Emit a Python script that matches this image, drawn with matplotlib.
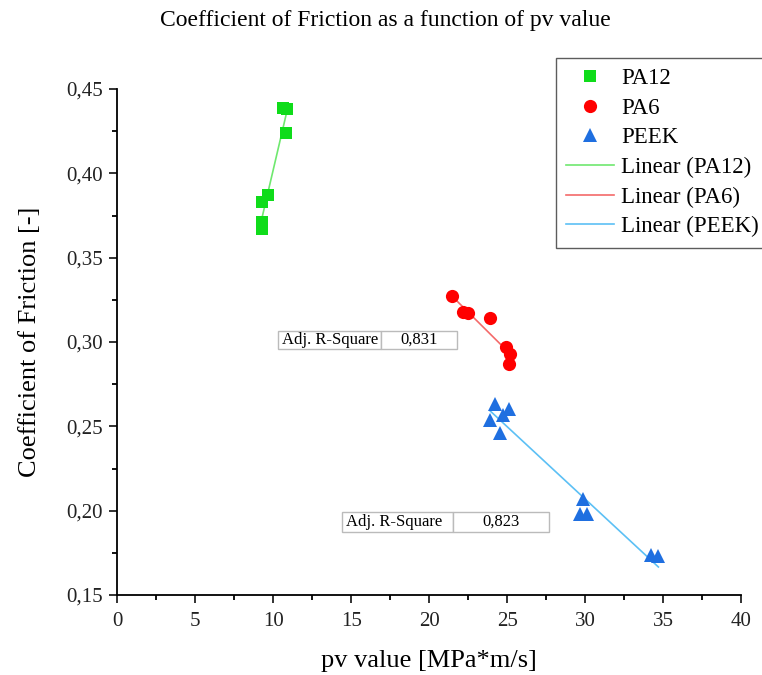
import numpy as np
import matplotlib
matplotlib.use("Agg")
import matplotlib.pyplot as plt
from matplotlib.patches import Rectangle
from matplotlib.ticker import MultipleLocator, FuncFormatter

# -------------------------------------------------------
# Data
# -------------------------------------------------------
pa12_pv  = [10.64, 10.90, 10.83, 9.68, 9.29, 9.29, 9.29]
pa12_cof = [0.439, 0.438, 0.424, 0.387, 0.383, 0.371, 0.367]

pa6_pv   = [21.45, 22.15, 22.51, 23.91, 24.94, 25.15, 25.09]
pa6_cof  = [0.327, 0.318, 0.317, 0.314, 0.297, 0.293, 0.287]

peek_pv  = [24.23, 25.13, 24.74, 23.91, 24.55, 29.87, 29.68, 30.13, 34.23, 34.68]
peek_cof = [0.263, 0.260, 0.257, 0.254, 0.246, 0.207, 0.198, 0.198, 0.174, 0.173]

adj_r2_pa6  = "0,831"
adj_r2_peek = "0,823"

# -------------------------------------------------------
# Style
# -------------------------------------------------------
plt.rcParams["font.family"] = ["Liberation Serif", "DejaVu Serif"]

series = [
    ("PA12", pa12_pv, pa12_cof, "s", "#0fdc1a", "#6fe86f", 8.5),
    ("PA6",  pa6_pv,  pa6_cof,  "o", "#ff0000", "#f46a6a", 9.5),
    ("PEEK", peek_pv, peek_cof, "^", "#1f6fe0", "#5cc0f5", 10),
]

fig = plt.figure(figsize=(7.62, 6.75), dpi=100)
ax = fig.add_axes([0.1535, 0.1185, 0.8195, 0.7496])

marker_handles = []
line_handles = []
for name, xs, ys, mk, mc, lc, ms in series:
    h, = ax.plot(xs, ys, linestyle="none", marker=mk, color=mc,
                 markersize=ms, markeredgewidth=0, label=name, zorder=3)
    marker_handles.append(h)
    # linear fit over the data range
    k, b = np.polyfit(xs, ys, 1)
    xf = np.array([min(xs), max(xs)])
    l, = ax.plot(xf, k * xf + b, color=lc, linewidth=1.2,
                 label=f"Linear ({name})", zorder=2)
    line_handles.append(l)

ax.set_xlim(0, 40)
ax.set_ylim(0.15, 0.45)
ax.xaxis.set_major_locator(MultipleLocator(5))
ax.xaxis.set_minor_locator(MultipleLocator(2.5))
ax.yaxis.set_major_locator(MultipleLocator(0.05))
ax.yaxis.set_minor_locator(MultipleLocator(0.025))
ax.yaxis.set_major_formatter(FuncFormatter(lambda v, p: f"{v:.2f}".replace(".", ",")))

for side in ("top", "right"):
    ax.spines[side].set_visible(False)
for side in ("left", "bottom"):
    ax.spines[side].set_linewidth(1.3)
ax.tick_params(which="major", direction="out", length=6, width=1.3,
               labelsize=15, colors="#222222")
ax.tick_params(axis="x", which="major", pad=6)
ax.tick_params(axis="y", which="major", pad=4)
ax.tick_params(which="minor", direction="out", length=3.5, width=1.3)

ax.set_xlabel("pv value [MPa*m/s]", fontsize=19, va="center")
ax.xaxis.set_label_coords(0.5, -0.13)
ax.set_ylabel("Coefficient of Friction [-]", fontsize=19, va="center")
ax.yaxis.set_label_coords(-0.139, 0.5)
fig.suptitle("Coefficient of Friction as a function of pv value",
             fontsize=17, x=0.506, y=0.985)

# Adj. R-Square tables
def r2_box(x0, xm, x1, y0, y1, value):
    for xa, xb in ((x0, xm), (xm, x1)):
        ax.add_patch(Rectangle((xa, y0), xb - xa, y1 - y0, facecolor="white",
                               edgecolor="#bbbbbb", linewidth=1.0, zorder=4))
    ax.text(x0 + 0.25, (y0 + y1) / 2, "Adj. R-Square", fontsize=12,
            va="center", ha="left", zorder=5)
    ax.text((xm + x1) / 2, (y0 + y1) / 2, value, fontsize=12,
            va="center", ha="center", zorder=5)

r2_box(10.3, 16.9, 21.8, 0.2958, 0.3065, adj_r2_pa6)
r2_box(14.4, 21.5, 27.7, 0.1873, 0.1992, adj_r2_peek)

leg = fig.legend(handles=marker_handles + line_handles, loc="upper left",
                 bbox_to_anchor=(0.7297, 0.914), fontsize=16.5, frameon=True,
                 fancybox=False, edgecolor="#333333", numpoints=1,
                 handlelength=2.1, handletextpad=0.3, labelspacing=0.37,
                 borderpad=0.45, borderaxespad=0)
leg.get_frame().set_linewidth(1.0)

fig.savefig("out.png", dpi=100)
